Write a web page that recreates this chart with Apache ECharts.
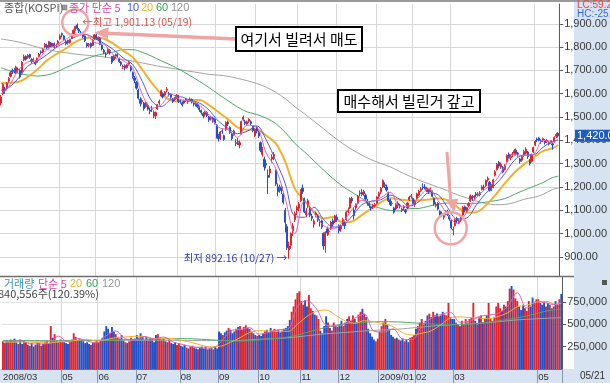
<!DOCTYPE html>
<html><head><meta charset="utf-8">
<script src="https://cdn.jsdelivr.net/npm/echarts@6/dist/echarts.min.js"></script>
<style>html,body{margin:0;padding:0;background:#fff;overflow:hidden}#c{width:610px;height:383px}</style>
</head><body><div id="c"></div>
<script>
// ---------- DATA ----------
const monthLabels = ['2008/03','04','05','06','07','08','09','10','11','12','2009/01','02','03','04','05'];
// daily candles per month: [open, close, low, high]
const mar08 = [[1560,1585,1550,1595],[1600,1640,1595,1645],[1620,1612,1600,1630],[1625,1645,1615,1650],[1655,1665,1648,1672],[1675,1690,1670,1698],[1700,1695,1685,1708],[1700,1697,1688,1710],[1690,1715,1685,1720],[1705,1704,1690,1712]];
const apr08 = [[1700,1672,1665,1705],[1690,1735,1688,1740],[1745,1760,1740,1768],[1760,1748,1742,1765],[1755,1764,1750,1770],[1768,1756,1750,1772],[1745,1738,1730,1752],[1742,1748,1736,1755],[1735,1728,1722,1742],[1735,1752,1730,1756],[1760,1770,1755,1775],[1780,1776,1768,1786],[1780,1790,1774,1794],[1800,1812,1796,1818],[1808,1798,1792,1815],[1800,1823,1796,1826],[1818,1802,1798,1822],[1808,1812,1800,1818],[1815,1800,1795,1820],[1805,1808,1798,1815],[1812,1825,1808,1830]];
const may08 = [[1835,1848,1830,1855],[1858,1852,1842,1862],[1848,1832,1828,1852],[1825,1815,1808,1830],[1818,1826,1810,1832],[1820,1830,1815,1836],[1838,1852,1835,1858],[1858,1872,1852,1876],[1875,1889,1870,1892],[1895,1880,1872,1901.13],[1875,1868,1860,1882],[1862,1858,1850,1870],[1855,1845,1838,1860],[1848,1828,1822,1850],[1815,1805,1798,1820],[1808,1812,1800,1818],[1815,1803,1795,1820],[1808,1830,1805,1834],[1835,1852,1830,1856]];
const jun08 = [[1850,1838,1830,1858],[1832,1840,1825,1846],[1838,1812,1808,1842],[1808,1792,1786,1812],[1785,1778,1770,1792],[1770,1768,1755,1778],[1775,1790,1770,1795],[1785,1775,1768,1792],[1760,1735,1728,1762],[1745,1760,1740,1766],[1762,1765,1752,1772],[1768,1762,1755,1774],[1750,1738,1732,1755],[1735,1726,1718,1740],[1715,1718,1705,1725],[1720,1710,1700,1726],[1712,1724,1708,1728],[1728,1734,1720,1740],[1718,1702,1695,1722],[1690,1674,1665,1695]];
const jul08 = [[1668,1658,1645,1676],[1650,1624,1618,1655],[1615,1581,1575,1622],[1575,1559,1545,1585],[1565,1571,1555,1580],[1560,1536,1528,1565],[1545,1563,1540,1568],[1550,1534,1528,1558],[1530,1525,1512,1540],[1535,1534,1522,1548],[1520,1506,1495,1528],[1505,1519,1492,1524],[1535,1552,1530,1556],[1560,1568,1552,1575],[1590,1613,1585,1618],[1600,1586,1580,1606],[1595,1607,1590,1612],[1615,1620,1605,1628],[1600,1596,1588,1608],[1598,1585,1578,1602],[1575,1567,1560,1582],[1575,1580,1568,1586],[1585,1594,1578,1598]];
const aug08 = [[1590,1567,1560,1595],[1570,1568,1558,1578],[1560,1552,1545,1566],[1560,1570,1555,1575],[1575,1573,1565,1582],[1565,1567,1556,1574],[1575,1577,1566,1584],[1575,1565,1558,1580],[1560,1555,1546,1566],[1555,1560,1545,1565],[1555,1545,1538,1560],[1540,1532,1522,1546],[1528,1520,1510,1532],[1515,1505,1495,1522],[1510,1520,1502,1526],[1520,1507,1500,1525],[1500,1488,1480,1505],[1492,1500,1485,1506],[1495,1484,1476,1502],[1490,1474,1468,1495]];
const sep08 = [[1465,1414,1408,1470],[1420,1407,1395,1428],[1410,1436,1402,1440],[1440,1439,1428,1448],[1420,1404,1398,1425],[1445,1477,1440,1482],[1478,1470,1462,1485],[1455,1434,1428,1460],[1430,1408,1400,1436],[1425,1440,1420,1446],[1390,1387,1375,1405],[1395,1396,1380,1410],[1380,1390,1366,1400],[1430,1481,1425,1485],[1490,1500,1482,1506],[1480,1473,1465,1488],[1470,1480,1462,1485],[1482,1490,1475,1495],[1480,1473,1465,1486],[1460,1441,1435,1465],[1420,1448,1415,1452]];
const oct08 = [[1455,1440,1430,1462],[1435,1419,1410,1440],[1390,1358,1350,1395],[1340,1366,1330,1372],[1320,1286,1270,1330],[1300,1294,1280,1318],[1250,1241,1170,1275],[1260,1277,1240,1290],[1320,1329,1305,1340],[1330,1340,1315,1350],[1270,1213,1205,1275],[1200,1180,1160,1215],[1190,1193,1175,1210],[1200,1185,1170,1210],[1170,1134,1125,1175],[1100,1049,1005,1110],[1030,939,930,1040],[930,946,892.16,965],[950,999,935,1005],[1010,1032,990,1045],[1060,1085,1050,1095],[1100,1113,1080,1120]];
const nov08 = [[1110,1127,1095,1135],[1140,1181,1135,1190],[1195,1181,1170,1210],[1150,1093,1088,1155],[1080,1095,1070,1110],[1120,1141,1110,1150],[1110,1079,1070,1118],[1075,1066,1055,1085],[1040,1054,1025,1062],[1080,1088,1070,1095],[1075,1060,1050,1082],[1052,1050,1030,1062],[1055,1029,1020,1060],[1000,947,930,1005],[950,1005,918,1010],[1020,1003,990,1030],[1008,1010,995,1022],[1020,1049,1015,1055],[1055,1040,1030,1065],[1050,1076,1045,1080]];
const dec08 = [[1070,1060,1050,1082],[1035,1012,1000,1040],[1020,1030,1008,1038],[1045,1060,1035,1068],[1045,1034,1020,1052],[1060,1092,1055,1098],[1095,1100,1088,1112],[1110,1150,1105,1155],[1150,1140,1130,1158],[1100,1077,1060,1110],[1110,1125,1100,1130],[1130,1161,1125,1165],[1175,1171,1160,1185],[1168,1178,1160,1192],[1180,1171,1162,1188],[1165,1148,1140,1172],[1140,1130,1120,1148],[1128,1120,1110,1135],[1115,1110,1098,1120],[1115,1120,1105,1128],[1120,1124,1112,1132]];
const jan09 = [[1130,1157,1125,1160],[1160,1173,1150,1180],[1180,1194,1170,1200],[1200,1228,1195,1232],[1210,1206,1195,1220],[1200,1187,1180,1210],[1175,1141,1135,1180],[1145,1124,1118,1150],[1128,1130,1120,1140],[1110,1092,1085,1115],[1105,1124,1100,1130],[1130,1120,1110,1138],[1122,1120,1108,1128],[1100,1105,1092,1112],[1115,1110,1100,1122],[1100,1093,1085,1106],[1110,1131,1105,1135],[1145,1156,1140,1162],[1160,1162,1150,1170]];
const feb09 = [[1150,1127,1120,1155],[1125,1138,1115,1145],[1150,1170,1145,1175],[1165,1181,1160,1188],[1185,1191,1178,1200],[1200,1196,1188,1215],[1200,1198,1190,1212],[1185,1195,1178,1200],[1185,1179,1170,1192],[1185,1191,1178,1198],[1180,1160,1155,1185],[1150,1127,1120,1155],[1120,1125,1112,1135],[1130,1105,1100,1135],[1095,1076,1068,1100],[1085,1086,1070,1095],[1070,1077,1060,1085],[1088,1090,1078,1100],[1095,1082,1075,1102],[1075,1063,1055,1080]];
const mar09 = [[1055,1025,1018,1060],[1015,1018,992.69,1030],[1035,1059,1030,1065],[1065,1055,1045,1072],[1045,1055,1040,1062],[1060,1071,1050,1078],[1080,1113,1075,1118],[1115,1100,1092,1120],[1095,1111,1090,1115],[1120,1127,1112,1135],[1140,1162,1135,1168],[1160,1149,1140,1165],[1155,1160,1145,1166],[1170,1165,1155,1178],[1165,1170,1158,1178],[1175,1168,1160,1182],[1190,1200,1185,1208],[1200,1196,1185,1210],[1205,1228,1200,1232],[1230,1237,1222,1245],[1220,1185,1180,1225],[1190,1206,1182,1212]];
const apr09 = [[1200,1230,1195,1235],[1250,1265,1245,1272],[1275,1297,1270,1302],[1305,1290,1280,1312],[1285,1297,1278,1305],[1285,1265,1258,1290],[1275,1293,1270,1298],[1310,1336,1305,1340],[1340,1330,1322,1348],[1325,1333,1315,1340],[1340,1341,1328,1350],[1345,1355,1335,1362],[1358,1343,1335,1365],[1345,1340,1330,1350],[1320,1310,1300,1325],[1315,1330,1308,1335],[1335,1352,1328,1360],[1345,1362,1340,1370],[1350,1330,1320,1355],[1315,1300,1292,1320],[1310,1339,1305,1343],[1350,1369,1345,1373]];
const may09 = [[1380,1396,1375,1402],[1405,1401,1392,1412],[1410,1400,1395,1415],[1398,1395,1385,1405],[1398,1407,1392,1412],[1400,1390,1382,1405],[1395,1400,1388,1406],[1390,1385,1378,1398],[1392,1398,1385,1402],[1385,1380,1360,1390],[1395,1412,1390,1418],[1418,1425,1410,1432],[1430,1420,1412,1435]];

// daily volume per month (thousand shares)
const volMar08 = [310,290,320,300,330,310,340,300,280,330];
const volApr08 = [280,310,300,270,260,290,250,270,300,290,260,280,300,310,280,480,350,390,320,300,330];
const volMay08 = [310,300,290,280,300,330,400,360,320,340,330,310,290,300,280,270,290,300,320];
const volJun08 = [300,320,350,420,480,450,400,470,420,390,360,340,380,320,300,290,310,350,330,340];
const volJul08 = [380,350,400,370,320,360,330,350,340,300,380,390,350,330,340,310,300,330,290,280,300,270,290];
const volAug08 = [260,250,270,240,230,250,260,240,230,220,240,250,230,250,220,230,240,220,250,230];
const volSep08 = [420,400,380,410,430,460,440,400,420,450,470,480,440,470,490,460,450,420,400,380,370];
const volOct08 = [380,370,400,420,440,410,460,430,450,420,440,410,430,450,460,480,550,640,700,780,850,870];
const volNov08 = [760,720,770,700,830,680,650,610,600,560,430,400,480,590,520,460,430,520,480,470];
const volDec08 = [500,540,480,520,560,590,540,600,560,520,610,640,675,620,580,450,400,360,330,310,340];
const volJan09 = [420,480,520,560,500,450,380,360,340,350,330,320,340,310,330,300,350,360,380];
const volFeb09 = [450,480,520,560,500,540,600,620,580,640,600,620,590,600,640,610,600,740,580,560];
const volMar09 = [560,520,500,480,540,500,560,520,560,580,740,540,500,580,600,520,560,600,740,560,540,580];
const volApr09 = [700,740,680,650,720,700,760,900,930,890,790,760,700,660,720,680,650,760,700,800,740,780];
const volMay09 = [780,740,720,760,700,740,720,680,700,760,720,780,840.556];

// moving-average lines at these day positions
const maIdx = [0,4,9,14,19,24,29,34,39,44,49,54,59,64,69,74,79,84,89,94,99,104,109,114,119,124,129,134,139,144,149,154,159,164,169,174,179,184,189,194,199,204,209,214,219,224,229,234,239,244,249,254,259,264,269,274,279,284,289,292];
const ma5 = [1600,1629,1700,1736,1744,1789,1809,1834,1854,1856,1820,1812,1766,1742,1709,1599,1538,1552,1599,1575,1568,1551,1508,1456,1445,1413,1465,1458,1345,1280,1148,1000,1139,1087,1035,1021,1048,1103,1142,1136,1154,1177,1117,1119,1156,1192,1142,1082,1044,1090,1153,1192,1225,1288,1339,1335,1340,1400,1391,1407];
const ma10 = [1615,1626,1665,1718,1740,1767,1799,1822,1844,1855,1838,1816,1789,1754,1725,1654,1569,1545,1575,1587,1572,1560,1530,1482,1451,1429,1439,1462,1402,1312,1214,1074,1070,1113,1061,1028,1035,1075,1123,1139,1145,1165,1147,1118,1137,1174,1167,1112,1063,1067,1121,1173,1209,1257,1314,1337,1338,1370,1395,1401];
const ma20 = [1645,1647,1650,1672,1703,1742,1770,1794,1822,1838,1841,1836,1814,1785,1757,1704,1647,1599,1572,1566,1573,1573,1551,1521,1490,1456,1445,1445,1420,1387,1308,1193,1142,1094,1065,1071,1048,1052,1079,1107,1134,1152,1146,1142,1142,1146,1152,1143,1115,1090,1092,1120,1165,1215,1261,1297,1326,1354,1366,1380];
const ma60 = [1712,1700,1688,1680,1676,1680,1693,1712,1730,1748,1762,1772,1779,1789,1789,1778,1761,1741,1723,1702,1678,1653,1627,1597,1570,1543,1522,1511,1495,1472,1434,1387,1351,1312,1273,1236,1203,1177,1151,1124,1108,1099,1097,1107,1108,1117,1126,1131,1130,1129,1130,1135,1141,1150,1168,1186,1202,1219,1240,1246];
const ma120 = [1835,1830,1822,1812,1800,1790,1782,1776,1770,1766,1762,1758,1752,1746,1740,1732,1724,1716,1710,1703,1696,1690,1683,1680,1675,1666,1656,1644,1628,1606,1579,1544,1514,1482,1450,1417,1387,1360,1337,1317,1301,1286,1266,1247,1229,1214,1199,1184,1167,1153,1140,1129,1124,1125,1133,1147,1155,1168,1189,1195];
const volMa5 = [300,310,312,284,280,286,368,302,342,314,292,374,426,340,324,364,336,358,302,274,250,236,234,304,424,444,462,390,408,440,446,704,764,674,492,482,502,570,613,424,414,450,336,330,478,568,610,634,524,536,588,604,624,702,854,682,756,740,720,760];
const volMa20 = [305,300,303,300,296,290,304,309,324,331,312,330,351,358,366,363,341,345,340,317,296,265,248,256,299,351,408,430,426,425,421,500,589,647,659,603,538,512,541,530,505,475,405,380,400,428,495,572,584,576,570,563,588,630,696,715,748,758,724,735];
const volMa60 = [315,316,317,315,313,312,314,316,318,319,321,323,324,328,331,333,335,337,339,340,338,333,326,320,316,312,318,325,335,345,359,380,410,440,465,488,507,515,522,528,530,528,525,518,510,504,500,498,496,502,512,525,540,556,572,595,620,648,664,670];
const volMa120 = [320,320,320,319,319,318,318,318,319,319,320,320,321,321,322,322,322,321,321,320,319,318,318,318,318,320,326,333,338,343,349,360,372,384,395,402,409,418,426,432,438,442,450,460,470,480,488,494,500,506,512,520,530,540,550,556,562,568,572,574];

const priceTicks = [900,1000,1100,1200,1300,1400,1500,1600,1700,1800,1900];
const volTicks = [250,500,750];

// ---------- BUILD ----------
const candleMonths = [mar08,apr08,may08,jun08,jul08,aug08,sep08,oct08,nov08,dec08,jan09,feb09,mar09,apr09,may09];
const volMonths = [volMar08,volApr08,volMay08,volJun08,volJul08,volAug08,volSep08,volOct08,volNov08,volDec08,volJan09,volFeb09,volMar09,volApr09,volMay09];
const categories = [], candles = [], volumes = [], startLabel = {};
monthLabels.forEach((m, mi) => {
  startLabel[categories.length] = m;
  candleMonths[mi].forEach((d, di) => {
    categories.push(m + '-' + (di + 1));
    candles.push(d);
    const up = d[1] >= d[0];
    volumes.push({ value: volMonths[mi][di], itemStyle: { color: up ? '#e0242b' : '#2250c8' } });
  });
});
const N = categories.length;
function sparse(vals) { const a = new Array(N).fill(null); maIdx.forEach((i, k) => { a[i] = vals[k]; }); return a; }
const isMonthLine = (i) => startLabel[i] !== undefined && i > 0 && startLabel[i] !== '04';
const isMonthLabel = (i) => startLabel[i] !== undefined && startLabel[i] !== '04';

const NUMFONT = '"Liberation Sans","Arial",sans-serif';
const KFONT = '"Noto Sans CJK KR","Noto Sans",sans-serif';
const fmt = (v, d) => v.toLocaleString('en-US', { minimumFractionDigits: d, maximumFractionDigits: d });

const chart = echarts.init(document.getElementById('c'), null, { renderer: 'canvas' });
const lineS = (name, data, color, width, xi, yi, z) => ({
  name, type: 'line', data: sparse(data), xAxisIndex: xi, yAxisIndex: yi, connectNulls: true,
  showSymbol: false, smooth: 0.35, silent: true, z: z || 2,
  lineStyle: { color, width }
});

chart.setOption({
  animation: false,
  backgroundColor: '#ffffff',
  grid: [
    { left: 0, right: 37, top: 4, height: 272 },
    { left: 0, right: 37, top: 277, height: 92 }
  ],
  xAxis: [
    { gridIndex: 0, type: 'category', data: categories, boundaryGap: true,
      axisLine: { show: false }, axisTick: { show: false }, axisLabel: { show: false },
      splitLine: { show: true, interval: (i) => isMonthLine(i), lineStyle: { color: '#d8d8d8', width: 1 } } },
    { gridIndex: 1, type: 'category', data: categories, boundaryGap: true,
      axisLine: { show: true, lineStyle: { color: '#6f6f6f', width: 1 } },
      axisTick: { show: true, interval: (i) => isMonthLine(i), length: 14, lineStyle: { color: '#8b98ab' } },
      axisLabel: { show: true, interval: (i) => isMonthLabel(i), formatter: (v, i) => startLabel[i] || '',
        align: 'left', margin: 3, fontSize: 9.5, color: '#333', fontFamily: NUMFONT },
      splitLine: { show: true, interval: (i) => isMonthLine(i), lineStyle: { color: '#d8d8d8', width: 1 } } }
  ],
  yAxis: [
    { gridIndex: 0, type: 'value', position: 'right', min: 818, max: 1985, scale: true,
      axisLine: { show: true, lineStyle: { color: '#5b5b5b' } },
      axisTick: { show: true, customValues: priceTicks, length: 4, lineStyle: { color: '#5b5b5b' } },
      axisLabel: { customValues: priceTicks, formatter: (v) => fmt(v, 2), color: '#3a3a3a', fontSize: 11, margin: 5, fontFamily: NUMFONT },
      splitLine: { show: true, lineStyle: { color: '#d8d8d8', width: 1 } } },
    { gridIndex: 1, type: 'value', position: 'right', min: 0, max: 1030,
      axisLine: { show: true, lineStyle: { color: '#5b5b5b' } },
      axisTick: { show: true, customValues: volTicks, length: 4, lineStyle: { color: '#5b5b5b' } },
      axisLabel: { customValues: volTicks, formatter: (v) => fmt(v * 1000, 0), color: '#3a3a3a', fontSize: 11, margin: 5, fontFamily: NUMFONT },
      splitLine: { show: true, lineStyle: { color: '#e2e2e2', width: 1 } } }
  ],
  series: [
    lineS('MA120', ma120, '#a3a3a3', 1, 0, 0),
    lineS('MA60', ma60, '#4fa56a', 1, 0, 0),
    lineS('MA20', ma20, '#f0b22c', 2, 0, 0),
    { name: 'KOSPI', type: 'candlestick', data: candles, xAxisIndex: 0, yAxisIndex: 0, barWidth: 1.6, z: 3, silent: true,
      itemStyle: { color: '#e0242b', color0: '#2250c8', borderColor: '#e0242b', borderColor0: '#2250c8', borderWidth: 1 } },
    lineS('MA10', ma10, '#4e5fd0', 1, 0, 0, 4),
    lineS('MA5', ma5, '#e062bd', 1, 0, 0, 4),
    { name: 'Volume', type: 'bar', data: volumes, xAxisIndex: 1, yAxisIndex: 1, barCategoryGap: '0%', silent: true, z: 2 },
    lineS('VMA120', volMa120, '#a3a3a3', 1, 1, 1, 3),
    lineS('VMA60', volMa60, '#4fa56a', 1, 1, 1, 3),
    lineS('VMA20', volMa20, '#f0b22c', 1, 1, 1, 3),
    lineS('VMA5', volMa5, '#e062bd', 1, 1, 1, 3)
  ]
});

// ---------- ANNOTATIONS (anchored to data through the chart's scales) ----------
const P = (i, v) => chart.convertToPixel({ xAxisIndex: 0, yAxisIndex: 0 }, [i, v]);
const hiIdx = 40, loIdx = 151, marLowIdx = 237;
const hi = P(hiIdx, 1901.13), lo = P(loIdx, 892.16), ml = P(marLowIdx, 992.69), last = P(N - 1, 1420);
const PINK = '#f2a3a3';
const T = (text, x, y, fill, size, font, extra, z) => ({ type: 'text', z: z || 110, style: Object.assign({ text, x, y, fill, fontSize: size || 11, fontFamily: font || KFONT, verticalAlign: 'middle', align: 'left' }, extra || {}) });
const arrowHead = (tx, ty, dx, dy, len, half) => {
  const n = Math.hypot(dx, dy); const ux = dx / n, uy = dy / n;
  const bx = tx - ux * len, by = ty - uy * len;
  return { type: 'polygon', z: 99, shape: { points: [[tx, ty], [bx - uy * half, by + ux * half], [bx + uy * half, by - ux * half]] }, style: { fill: PINK } };
};
const a1tip = [hi[0] + 17, hi[1] + 9], a1start = [236, 39];
const a2tip = [ml[0] + 0.5, ml[1] - 23], a2start = [447, 152];

chart.setOption({
  graphic: [
    { type: 'rect', z: -10, shape: { x: 574, y: 0, width: 36, height: 383 }, style: { fill: '#d7e3f1' } },
    { type: 'rect', z: -10, shape: { x: 0, y: 369, width: 610, height: 14 }, style: { fill: '#d7e3f1' } },
    { type: 'rect', z: 90, shape: { x: 0, y: 0, width: 610, height: 2 }, style: { fill: '#9a9a9a' } },
    { type: 'line', z: 90, shape: { x1: 0, y1: 276.5, x2: 574, y2: 276.5 }, style: { stroke: '#6e6e6e', lineWidth: 1.5 } },
    // header legend
    T('종합(KOSPI)', 4, 8, '#555555', 11),
    { type: 'rect', z: 100, shape: { x: 62, y: 5, width: 5, height: 5 }, style: { fill: '#9a9a9a', stroke: '#777', lineWidth: 0.5 } },
    T('종가 단순 5', 69, 8, '#d54aa8', 11),
    T('10', 127, 8, '#4a62c8', 11, NUMFONT),
    T('20', 141, 8, '#e2b52a', 11, NUMFONT),
    T('60', 156, 8, '#35a055', 11, NUMFONT),
    T('120', 171, 8, '#959595', 11, NUMFONT),
    // right side info
    T('LC:59.2', 577, 5, '#e04848', 10, NUMFONT),
    T('HC:-25.3', 577, 14, '#3a6ad0', 10, NUMFONT),
    { type: 'rect', z: 100, shape: { x: 575, y: last[1] - 6, width: 35, height: 12 }, style: { fill: '#1d5cc2' } },
    T(fmt(1420, 2), 577, last[1], '#ffffff', 11, NUMFONT),
    // volume header
    T('거래량', 4, 284, '#3a98b8', 11),
    T('단순 5', 38, 284, '#d54aa8', 11),
    T('20', 70, 284, '#e2b52a', 11, NUMFONT),
    T('60', 86, 284, '#35a055', 11, NUMFONT),
    T('120', 102, 284, '#959595', 11, NUMFONT),
    T('840,556주(120.39%)', -2, 294, '#444444', 11),
    { type: 'rect', z: 100, shape: { x: 602, y: 280, width: 5, height: 5 }, style: { fill: '#555' } },
    T('05/21', 580, 376, '#333333', 10, NUMFONT),
    // high / low labels
    T('←최고 1,901.13 (05/19)', hi[0] + 5, hi[1] - 2, '#d9534f', 10.5),
    T('최저 892.16 (10/27) →', lo[0] - 2, lo[1] - 1, '#2d3c9e', 10.5, KFONT, { align: 'right' }),
    // hand-drawn callouts
    { type: 'circle', z: 98, shape: { cx: hi[0] - 2, cy: hi[1] - 1, r: 13 }, style: { fill: 'none', stroke: PINK, lineWidth: 2.5 } },
    { type: 'line', z: 98, shape: { x1: a1start[0], y1: a1start[1], x2: a1tip[0] + 12, y2: a1tip[1] + 0.6 }, style: { stroke: PINK, lineWidth: 3.5 } },
    arrowHead(a1tip[0], a1tip[1], a1tip[0] - a1start[0], a1tip[1] - a1start[1], 14, 6),
    { type: 'rect', z: 101, shape: { x: 236, y: 27, width: 126, height: 24 }, style: { fill: '#fff', stroke: '#000', lineWidth: 2 } },
    T('여기서 빌려서 매도', 299, 39.5, '#000', 15, KFONT, { align: 'center' }, 120),
    { type: 'rect', z: 101, shape: { x: 338, y: 90, width: 142, height: 22 }, style: { fill: '#fff', stroke: '#000', lineWidth: 2 } },
    T('매수해서 빌린거 갚고', 409, 101.5, '#000', 15, KFONT, { align: 'center' }, 120),
    { type: 'line', z: 98, shape: { x1: a2start[0], y1: a2start[1], x2: a2tip[0] - 3, y2: a2tip[1] - 11 }, style: { stroke: PINK, lineWidth: 3 } },
    arrowHead(a2tip[0], a2tip[1], a2tip[0] - a2start[0], a2tip[1] - a2start[1], 13, 6),
    { type: 'circle', z: 98, shape: { cx: ml[0] - 2.5, cy: ml[1] - 7, r: 16 }, style: { fill: 'none', stroke: PINK, lineWidth: 2.5 } }
  ]
});
</script>
</body></html>
